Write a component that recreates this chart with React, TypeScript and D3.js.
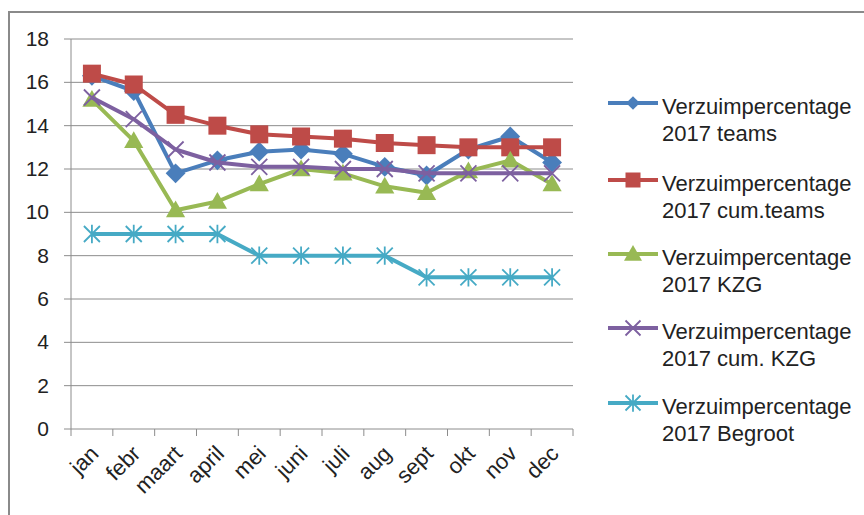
import React, { useEffect, useRef } from 'react';
import * as d3 from 'd3';

const months = ['jan', 'febr', 'maart', 'april', 'mei', 'juni', 'juli', 'aug', 'sept', 'okt', 'nov', 'dec'];
const teams = [16.3, 15.6, 11.8, 12.4, 12.8, 12.9, 12.7, 12.1, 11.7, 12.9, 13.5, 12.3];
const cumTeams = [16.4, 15.9, 14.5, 14.0, 13.6, 13.5, 13.4, 13.2, 13.1, 13.0, 13.0, 13.0];
const kzg = [15.2, 13.3, 10.1, 10.5, 11.3, 12.0, 11.8, 11.2, 10.9, 11.9, 12.4, 11.3];
const cumKzg = [15.3, 14.3, 12.9, 12.3, 12.1, 12.1, 12.0, 12.0, 11.8, 11.8, 11.8, 11.8];
const begroot = [9, 9, 9, 9, 8, 8, 8, 8, 7, 7, 7, 7];
const yTicks = [0, 2, 4, 6, 8, 10, 12, 14, 16, 18];

const series = [
  { name: ['Verzuimpercentage', '2017 teams'], values: teams, color: '#4a7ebb', marker: 'diamond' },
  { name: ['Verzuimpercentage', '2017 cum.teams'], values: cumTeams, color: '#be4b48', marker: 'square' },
  { name: ['Verzuimpercentage', '2017 KZG'], values: kzg, color: '#98b954', marker: 'triangle' },
  { name: ['Verzuimpercentage', '2017 cum. KZG'], values: cumKzg, color: '#7d60a0', marker: 'x' },
  { name: ['Verzuimpercentage', '2017 Begroot'], values: begroot, color: '#46aac5', marker: 'star' },
];

function drawMarker(g: any, kind: string, color: string, size: number) {
  const s = size;
  if (kind === 'diamond') {
    g.append('path').attr('d', `M0,${-s * 0.62}L${s * 0.62},0L0,${s * 0.62}L${-s * 0.62},0Z`).attr('fill', color);
  } else if (kind === 'square') {
    g.append('rect').attr('x', -s / 2).attr('y', -s / 2).attr('width', s).attr('height', s).attr('fill', color);
  } else if (kind === 'triangle') {
    g.append('path').attr('d', `M0,${-s * 0.6}L${s * 0.6},${s * 0.45}L${-s * 0.6},${s * 0.45}Z`).attr('fill', color);
  } else if (kind === 'x') {
    const h = s * 0.5;
    g.append('path').attr('d', `M${-h},${-h}L${h},${h}M${-h},${h}L${h},${-h}`).attr('stroke', color).attr('stroke-width', 1.8).attr('fill', 'none');
  } else {
    const h = s * 0.5;
    g.append('path').attr('d', `M${-h},${-h}L${h},${h}M${-h},${h}L${h},${-h}M0,${-h * 1.15}L0,${h * 1.15}`).attr('stroke', color).attr('stroke-width', 1.8).attr('fill', 'none');
  }
}

export default function App() {
  const ref = useRef<SVGSVGElement>(null);

  useEffect(() => {
    const svg = d3.select(ref.current);
    svg.selectAll('*').remove();
    const w = 864;
    const h = 515;
    const left = 71, right = 573, top = 39, bottom = 429;
    const font = 'Liberation Sans, Arial, sans-serif';

    svg.append('rect').attr('width', w).attr('height', h).attr('fill', '#fff');
    svg.append('path').attr('d', `M9,${h}L9,12L${w},12`).attr('fill', 'none').attr('stroke', '#8a8a8a').attr('stroke-width', 2);

    const x = d3.scaleBand().domain(months).range([left, right]);
    const y = d3.scaleLinear().domain([0, 18]).range([bottom, top]);

    // gridlines
    svg.append('g').selectAll('line').data(yTicks.filter(t => t > 0)).enter()
      .append('line')
      .attr('x1', left).attr('x2', right)
      .attr('y1', d => y(d)).attr('y2', d => y(d))
      .attr('stroke', '#8c8c8c').attr('stroke-width', 1);

    // y axis
    const yAxis = svg.append('g');
    yAxis.append('line').attr('x1', left).attr('x2', left).attr('y1', top).attr('y2', bottom).attr('stroke', '#8c8c8c');
    yAxis.selectAll('.tk').data(yTicks).enter().append('line')
      .attr('x1', left - 7).attr('x2', left).attr('y1', d => y(d)).attr('y2', d => y(d)).attr('stroke', '#8c8c8c');
    yAxis.selectAll('text').data(yTicks).enter().append('text')
      .attr('x', 49).attr('y', d => y(d) + 7)
      .attr('text-anchor', 'end')
      .attr('font-family', font).attr('font-size', 21).attr('fill', '#222')
      .text(d => d);

    // x axis
    const xAxis = svg.append('g');
    xAxis.append('line').attr('x1', left).attr('x2', right).attr('y1', bottom).attr('y2', bottom).attr('stroke', '#8c8c8c');
    const bounds = months.map(m => x(m) as number).concat([right]);
    xAxis.selectAll('.tk').data(bounds).enter().append('line')
      .attr('x1', d => d).attr('x2', d => d).attr('y1', bottom).attr('y2', bottom + 7).attr('stroke', '#8c8c8c');
    xAxis.selectAll('text').data(months).enter().append('text')
      .attr('transform', d => `translate(${(x(d) as number) + x.bandwidth() / 2 + 8},${bottom + 26}) rotate(-45)`)
      .attr('text-anchor', 'end')
      .attr('font-family', font).attr('font-size', 22).attr('fill', '#222')
      .text(d => d);

    const line = d3.line<number>()
      .x((d, i) => (x(months[i]) as number) + x.bandwidth() / 2)
      .y(d => y(d));

    series.forEach(s => {
      svg.append('path').datum(s.values).attr('d', line)
        .attr('fill', 'none').attr('stroke', s.color).attr('stroke-width', 4).attr('stroke-linejoin', 'round');
      s.values.forEach((v, i) => {
        const g = svg.append('g').attr('transform', `translate(${(x(months[i]) as number) + x.bandwidth() / 2},${y(v)})`);
        drawMarker(g, s.marker, s.color, s.marker === 'square' ? 18 : 16);
      });
    });

    // legend
    const legendY = [103, 180, 254, 328, 403];
    series.forEach((s, i) => {
      const g = svg.append('g').attr('transform', `translate(0,${legendY[i]})`);
      g.append('line').attr('x1', 608).attr('x2', 658).attr('y1', 0).attr('y2', 0)
        .attr('stroke', s.color).attr('stroke-width', 4);
      const mg = g.append('g').attr('transform', 'translate(633,0)');
      drawMarker(mg, s.marker, s.color, s.marker === 'diamond' ? 11 : 15);
      g.append('text').attr('x', 662).attr('y', 11)
        .attr('font-family', font).attr('font-size', 22).attr('fill', '#222')
        .text(s.name[0]);
      g.append('text').attr('x', 662).attr('y', 38)
        .attr('font-family', font).attr('font-size', 22).attr('fill', '#222')
        .text(s.name[1]);
    });
  }, []);

  return (
    <svg ref={ref} width={864} height={515} style={{ position: 'absolute', left: 0, top: 0 }} />
  );
}
